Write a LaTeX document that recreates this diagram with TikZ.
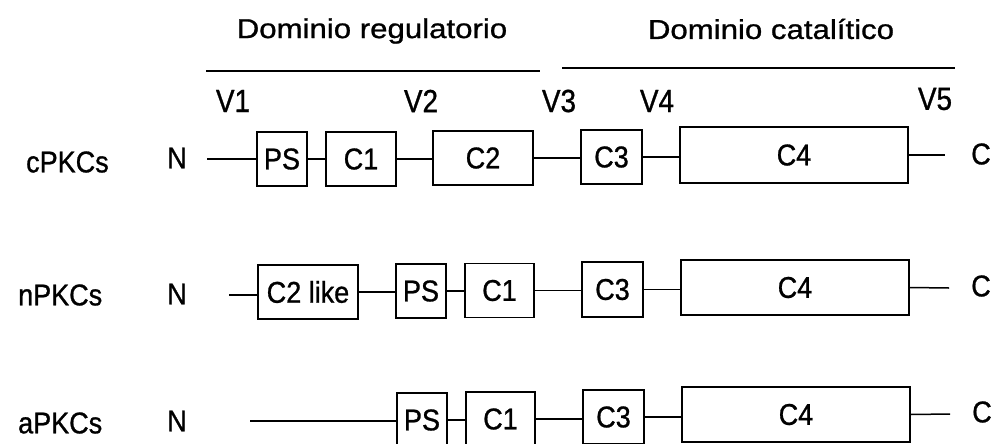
\documentclass[tikz,border=0pt]{standalone}
\usepackage{fontspec}
\setmainfont[FakeBold=0.9]{Liberation Sans}
\newfontfamily\narrowfont[FakeBold=0.9, FakeStretch=0.9]{Liberation Sans}
\newfontfamily\vfont[FakeBold=0.9, FakeStretch=0.87]{Liberation Sans}
\begin{document}
\begin{tikzpicture}[x=1pt,y=-1pt,
  box/.style={draw, line width=1.5pt, inner sep=0pt, font=\narrowfont\fontsize{30}{32}\selectfont},
  link/.style={line width=1.5pt},
  lbl/.style={inner sep=0pt, font=\narrowfont\fontsize{30}{32}\selectfont},
  vlbl/.style={inner sep=0pt, font=\vfont\fontsize{32}{34}\selectfont},
  ttl/.style={inner sep=0pt, font=\fontsize{26}{30}\selectfont},
  bar/.style={line width=1.5pt}]
\fill[white] (0,0) rectangle (995,444);
\useasboundingbox (0,0) rectangle (995,444);
\begin{scope}
\clip (0,0) rectangle (995,444);
% titles
\node[ttl] (t1) at (372,31) {\scalebox{1.2}[1.05]{Dominio regulatorio}};
\node[ttl] (t2) at (771,29) {\scalebox{1.2}[1.05]{Dominio catalítico}};
\coordinate (b1a) at (206,71); \coordinate (b1b) at (540,71);
\coordinate (b2a) at (562,68); \coordinate (b2b) at (955,68);
\draw[bar] (b1a) -- (b1b);
\draw[bar] (b2a) -- (b2b);
% V labels
\node[vlbl] (v1) at (233,101) {V1};
\node[vlbl] (v2) at (421,101) {V2};
\node[vlbl] (v3) at (559,101) {V3};
\node[vlbl] (v4) at (657,101) {V4};
\node[vlbl] (v5) at (935,99) {V5};
% row labels
\node[lbl, anchor=west] (r1) at (26,162) {cPKCs};
\node[lbl, anchor=west] (r2) at (18,295) {nPKCs};
\node[lbl, anchor=west] (r3) at (18,423) {aPKCs};
\node[lbl] (n1) at (177,158) {N};
\node[lbl] (n2) at (177,294) {N};
\node[lbl] (n3) at (177,421) {N};
\node[lbl] (ce1) at (981,154) {C};
\node[lbl] (ce2) at (981,286) {C};
\node[lbl] (ce3) at (982,412) {C};
% row 1
\node[box, minimum width=50, minimum height=54] (ps1) at (282,159) {PS};
\node[box, minimum width=70, minimum height=54] (cA1) at (361,159) {C1};
\node[box, minimum width=100, minimum height=54] (cB1) at (483,158) {C2};
\node[box, minimum width=61, minimum height=54] (cC1) at (611.5,157) {C3};
\node[box, minimum width=228, minimum height=56] (cD1) at (794,155) {C4};
\coordinate (s1) at (207,159);
\coordinate (e1) at (945,155);
\draw[link] (s1) -- (ps1.west);
\draw[link] (ps1.east) -- (cA1.west);
\draw[link] (cA1.east) -- (cB1.west|-cA1.east);
\draw[link] (cB1.east) -- (cC1.west|-cB1.east);
\draw[link] (cC1.east) -- (cD1.west|-cC1.east);
\draw[link] (cD1.east) -- (e1);
% row 2
\node[box, minimum width=100, minimum height=54] (cL2) at (308,292) {C2 like};
\node[box, minimum width=50, minimum height=54] (ps2) at (421,291) {PS};
\node[box, minimum width=69, minimum height=54] (cA2) at (499.5,290.5) {C1};
\node[box, minimum width=61, minimum height=55] (cC2) at (612.5,289.5) {C3};
\node[box, minimum width=228, minimum height=55] (cD2) at (795,287.5) {C4};
\coordinate (s2) at (229,295);
\coordinate (e2) at (949,288);
\draw[link] (s2) -- (cL2.west|-s2);
\draw[link] (cL2.east) -- (ps2.west|-cL2.east);
\draw[link] (ps2.east) -- (cA2.west|-ps2.east);
\draw[link] (cA2.east) -- (cC2.west|-cA2.east);
\draw[link] (cC2.east) -- (cD2.west|-cC2.east);
\draw[link] (cD2.east) -- (e2);
% row 3
\node[box, minimum width=50, minimum height=54] (ps3) at (422,420) {PS};
\node[box, minimum width=69, minimum height=54] (cA3) at (500.5,419) {C1};
\node[box, minimum width=61, minimum height=54] (cC3) at (613.5,417) {C3};
\node[box, minimum width=228, minimum height=55] (cD3) at (796,414.5) {C4};
\coordinate (s3) at (250,421);
\coordinate (e3) at (950,414);
\draw[link] (s3) -- (ps3.west|-s3);
\draw[link] (ps3.east) -- (cA3.west|-ps3.east);
\draw[link] (cA3.east) -- (cC3.west|-cA3.east);
\draw[link] (cC3.east) -- (cD3.west|-cC3.east);
\draw[link] (cD3.east) -- (e3);
\end{scope}
\end{tikzpicture}
\end{document}
